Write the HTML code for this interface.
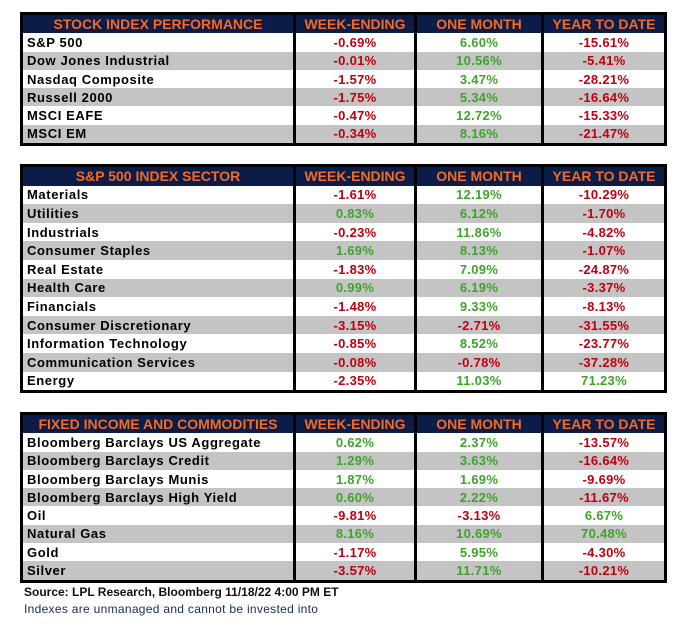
<!DOCTYPE html>
<html><head><meta charset="utf-8"><style>
body{margin:0;width:685px;height:636px;background:#fff;position:relative;overflow:hidden;font-family:"Liberation Sans",Arial,sans-serif}
table{position:absolute;left:20px;width:644px;border-collapse:collapse;table-layout:fixed;border:3px solid #000}
td{height:18.3px;padding:0;font-weight:bold;font-size:13px;line-height:15px;white-space:nowrap;overflow:hidden}
th{height:18.3px;padding:0;background:#0c1c48;color:#f26b22;font-size:14px;font-weight:bold;border-left:3px solid #000;line-height:15px}
table.tall td,table.tall th{height:18.6px}
th:first-child{border-left:none}
td.n{padding-left:4px;color:#000;letter-spacing:0.6px}
td.v{text-align:center;border-left:3px solid #000;letter-spacing:0.3px}
tr.g td{background:#c4c4c4}
.r{color:#c00010}.gr{color:#3ea42a}
.note1{position:absolute;left:24px;top:585px;font-size:12px;font-weight:bold;color:#111}
.note2{position:absolute;left:24px;top:602px;font-size:12px;color:#1a2a5a;letter-spacing:0.3px}
</style></head><body>
<div id="root"></div>
<div class="note1">Source: LPL Research, Bloomberg 11/18/22 4:00 PM ET</div>
<div class="note2">Indexes are unmanaged and cannot be invested into</div>
<script>
const t1Names=["S&P 500","Dow Jones Industrial","Nasdaq Composite","Russell 2000","MSCI EAFE","MSCI EM"];
const t1Week=[-0.69,-0.01,-1.57,-1.75,-0.47,-0.34];
const t1Month=[6.60,10.56,3.47,5.34,12.72,8.16];
const t1Ytd=[-15.61,-5.41,-28.21,-16.64,-15.33,-21.47];
const t2Names=["Materials","Utilities","Industrials","Consumer Staples","Real Estate","Health Care","Financials","Consumer Discretionary","Information Technology","Communication Services","Energy"];
const t2Week=[-1.61,0.83,-0.23,1.69,-1.83,0.99,-1.48,-3.15,-0.85,-0.08,-2.35];
const t2Month=[12.19,6.12,11.86,8.13,7.09,6.19,9.33,-2.71,8.52,-0.78,11.03];
const t2Ytd=[-10.29,-1.70,-4.82,-1.07,-24.87,-3.37,-8.13,-31.55,-23.77,-37.28,71.23];
const t3Names=["Bloomberg Barclays US Aggregate","Bloomberg Barclays Credit","Bloomberg Barclays Munis","Bloomberg Barclays High Yield","Oil","Natural Gas","Gold","Silver"];
const t3Week=[0.62,1.29,1.87,0.60,-9.81,8.16,-1.17,-3.57];
const t3Month=[2.37,3.63,1.69,2.22,-3.13,10.69,5.95,11.71];
const t3Ytd=[-13.57,-16.64,-9.69,-11.67,6.67,70.48,-4.30,-10.21];
const heads=["WEEK-ENDING","ONE MONTH","YEAR TO DATE"];
function build(top,title,names,w,m,y,key,cls){
  const t=document.createElement('table');
  t.style.top=top+'px';
  if(cls)t.className=cls;
  
  
  const cg=document.createElement('colgroup');
  [273,121,127,123].forEach(x=>{const c=document.createElement('col');c.style.width=x+'px';cg.appendChild(c);});
  t.appendChild(cg);
  const hr=document.createElement('tr');
  [title,...heads].forEach(h=>{const th=document.createElement('th');th.textContent=h;
    
    
    hr.appendChild(th);});
  t.appendChild(hr);
  names.forEach((n,i)=>{
    const tr=document.createElement('tr');if(i%2)tr.className='g';
    
    
    const td=document.createElement('td');td.className='n';td.textContent=n;
    
    
    tr.appendChild(td);
    [w[i],m[i],y[i]].forEach(v=>{const c=document.createElement('td');
      c.className='v '+(v<0?'r':'gr');c.textContent=v.toFixed(2)+'%';
      
      
      tr.appendChild(c);});
    t.appendChild(tr);
  });
  document.getElementById('root').appendChild(t);
}
build(12,"STOCK INDEX PERFORMANCE",t1Names,t1Week,t1Month,t1Ytd,'stock-index','');
build(164,"S&P 500 INDEX SECTOR",t2Names,t2Week,t2Month,t2Ytd,'sector','tall');
build(412,"FIXED INCOME AND COMMODITIES",t3Names,t3Week,t3Month,t3Ytd,'fixed-income','');
</script>
</body></html>
